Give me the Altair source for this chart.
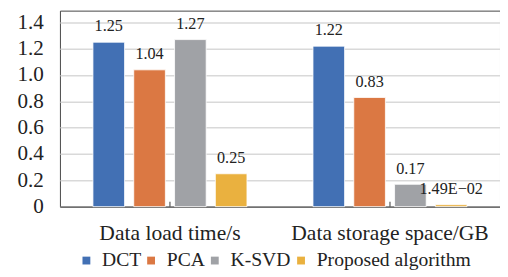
import altair as alt
import pandas as pd

categories = ["Data load time/s", "Data storage space/GB"]
methods = ["DCT", "PCA", "K-SVD", "Proposed algorithm"]
load_time = [1.25, 1.04, 1.27, 0.25]
storage = [1.22, 0.83, 0.17, 0.0149]
load_labels = ["1.25", "1.04", "1.27", "0.25"]
storage_labels = ["1.22", "0.83", "0.17", "1.49E\u221202"]
colors = ["#4270B4", "#DB7843", "#A0A2A6", "#EAB13F"]
y_ticks = [0, 0.2, 0.4, 0.6, 0.8, 1.0, 1.2, 1.4]

rows = []
for m, v, l in zip(methods, load_time, load_labels):
    rows.append({"category": categories[0], "method": m, "value": v, "label": l})
for m, v, l in zip(methods, storage, storage_labels):
    rows.append({"category": categories[1], "method": m, "value": v, "label": l})
df = pd.DataFrame(rows)
ticks_df = pd.DataFrame({"category": categories})

FONT = "Liberation Serif"

x = alt.X("category:N", sort=categories, title=None,
          scale=alt.Scale(paddingInner=0.30, paddingOuter=0.15),
          axis=alt.Axis(labelFont=FONT, labelFontSize=22, labelColor="#222",
                        labelAngle=0, labelPadding=17, ticks=False, labelLimit=0,
                        domainColor="#333", domainWidth=1, grid=False))
y = alt.Y("value:Q", title=None,
          scale=alt.Scale(domain=[0, 1.49], nice=False),
          axis=alt.Axis(values=y_ticks, labelFont=FONT, labelFontSize=21.5,
                        labelColor="#222", ticks=False, domain=False,
                        labelOverlap=False,
                        labelPadding=17, gridColor="#d9d9d9", gridWidth=1.5,
                        labelExpr="datum.value == 0 ? '0' : format(datum.value, '.1f')"))
xoff = alt.XOffset("method:N", sort=methods,
                   scale=alt.Scale(paddingInner=0.225, paddingOuter=0))

bars = alt.Chart(df).mark_bar(stroke="white", strokeWidth=0.8).encode(
    x=x, y=y, xOffset=xoff,
    color=alt.Color("method:N", sort=methods,
                    scale=alt.Scale(domain=methods, range=colors),
                    legend=alt.Legend(title=None, orient="none", direction="horizontal",
                                      legendX=17, legendY=245, labelLimit=0,
                                      padding=0,
                                      symbolType="square", symbolSize=64,
                                      symbolStrokeWidth=0, labelFont=FONT,
                                      labelFontSize=20, labelColor="#222",
                                      labelOffset=6, columnPadding=0)),
)

text = alt.Chart(df).mark_text(font=FONT, fontSize=16.5, color="#222", dy=-8,
                               baseline="bottom").encode(
    x=x, y=y, xOffset=xoff, text="label:N")

tick_rules = alt.Chart(ticks_df).mark_rule(color="#333", strokeWidth=1).encode(
    x=x, y=alt.value(195), y2=alt.value(200))

chart = (bars + text + tick_rules).properties(
    width=449, height=200,
    padding={"left": 9, "top": 0, "right": 0, "bottom": 0},
).configure_view(stroke="#444", strokeWidth=1)

chart.save("out.html", embed_options={"renderer": "svg", "actions": False})
